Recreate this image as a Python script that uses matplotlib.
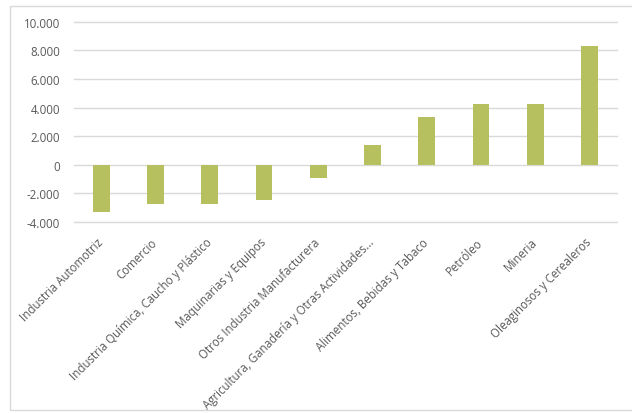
import matplotlib
matplotlib.use("Agg")
import matplotlib.pyplot as plt
from matplotlib.patches import Rectangle
from matplotlib.ticker import FuncFormatter

categories = [
    "Industria Automotriz",
    "Comercio",
    "Industria Química, Caucho y Plástico",
    "Maquinarias y Equipos",
    "Otros Industria Manufacturera",
    "Agricultura, Ganadería y Otras Actividades...",
    "Alimentos, Bebidas y Tabaco",
    "Petróleo",
    "Mineria",
    "Oleaginosos y Cerealeros",
]
values = [-3300, -2730, -2750, -2450, -900, 1350, 3350, 4220, 4230, 8320]
yticks = [-4000, -2000, 0, 2000, 4000, 6000, 8000, 10000]

plt.rcParams['font.family'] = ['Open Sans', 'DejaVu Sans']

fig = plt.figure(figsize=(6.32, 4.14), dpi=100)
fig.patches.append(Rectangle((10/632, 3/414), 640/632, 404/414, transform=fig.transFigure,
                             fill=False, edgecolor='#d9d9d9', linewidth=1.0))
ax = fig.add_axes([74/632, 1 - 223/414, 542.7/632, 200.3/414])

x = range(len(categories))
ax.bar(x, values, width=0.31, color='#B7C05E', zorder=3)
ax.set_xlim(-0.5, len(categories) - 0.5)
ax.set_ylim(-4000, 10000)
ax.set_yticks(yticks)
ax.yaxis.set_major_formatter(FuncFormatter(lambda v, p: f"{int(v):,}".replace(",", ".")))
ax.grid(axis='y', color='#d9d9d9', linewidth=1.0, zorder=0)
for line in ax.get_ygridlines():
    line.set_clip_on(False)
for s in ax.spines.values():
    s.set_visible(False)
ax.tick_params(axis='both', length=0, colors='#595959', labelsize=8.3)
ax.tick_params(axis='y', pad=10)
ax.set_xticks(list(x))
ax.set_xticklabels(categories, rotation=45, ha='right', va='center', rotation_mode='anchor')
ax.tick_params(axis='x', pad=13)

fig.savefig("out.png", dpi=100)
